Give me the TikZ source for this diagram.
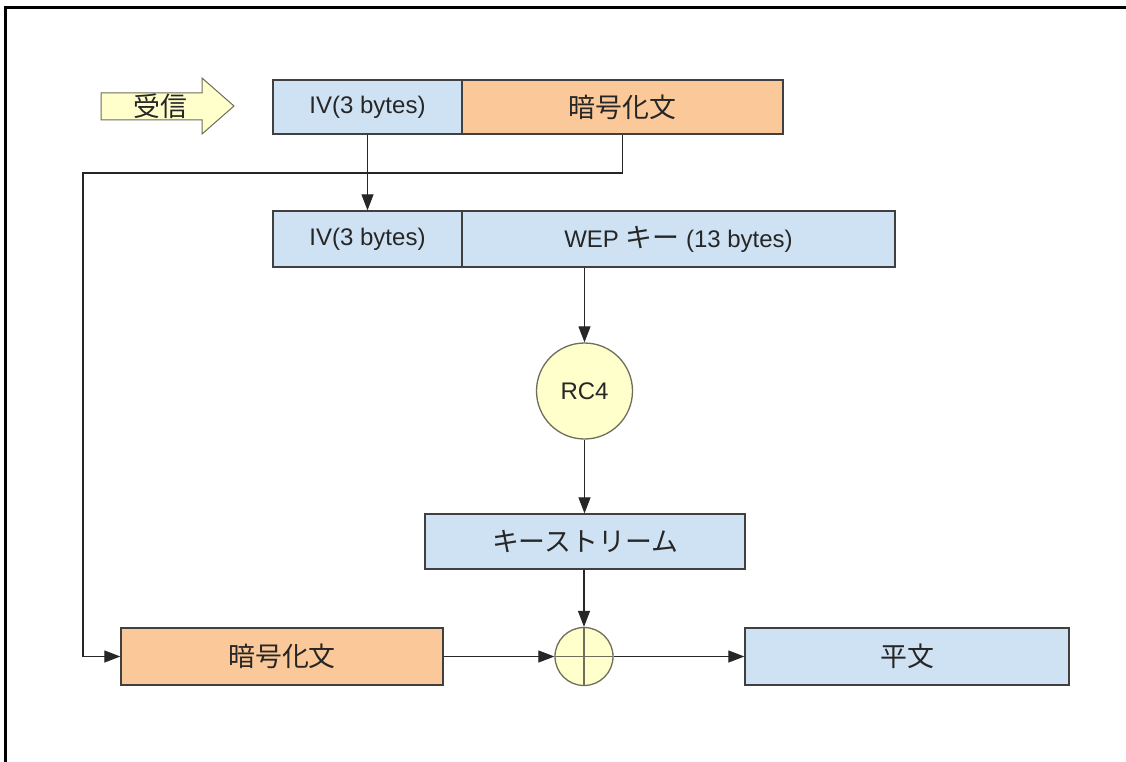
\documentclass[tikz,border=0pt]{standalone}
\usepackage{fontspec}
\setmainfont{Liberation Sans}
\newfontfamily\jp[Scale=1.12]{Noto Sans CJK JP}
\usetikzlibrary{arrows.meta}
\definecolor{boxblue}{RGB}{207,226,243}
\definecolor{boxorange}{RGB}{251,201,153}
\definecolor{paleyellow}{RGB}{255,255,204}
\definecolor{edgegray}{RGB}{64,64,64}
\definecolor{circgray}{RGB}{110,110,90}
\begin{document}
\begin{tikzpicture}[x=1pt,y=-1pt,
  every node/.style={font=\fontsize{24}{28}\selectfont, text=black!85},
  field/.style={draw=edgegray, line width=1.3pt, inner sep=0pt, minimum height=55pt},
  bluefield/.style={field, fill=boxblue},
  orangefield/.style={field, fill=boxorange},
  proc/.style={circle, draw=circgray, line width=1.3pt, fill=paleyellow, inner sep=0pt},
  flow/.style={line width=1.1pt, draw=black!85, -{Triangle[length=16pt,width=12pt]}},
  plain line/.style={line width=1.1pt, draw=black!85}]
\useasboundingbox (0,0) rectangle (1126,762);
\fill[white] (0,0) rectangle (1126,762);
% outer frame
\draw[line width=3pt, line cap=butt] (5.5,762) -- (5.5,7.5) -- (1126,7.5);

% receive arrow
\fill[paleyellow, draw=circgray, line width=1pt]
  (101,93) -- (202,93) -- (202,78) -- (234,106) -- (202,134) -- (202,120) -- (101,120) -- cycle;
\node (recv) at (160,106.5) {\jp 受信};

% received frame
\node[bluefield, minimum width=189pt, minimum height=54pt] (iv1) at (367.5,107) {IV(3 bytes)};
\node[orangefield, minimum width=321pt, minimum height=54pt] (ct1) at (622.5,107) {\jp 暗号化文};

% seed
\node[bluefield, minimum width=189pt, minimum height=56pt] (iv2) at (367.5,239) {IV(3 bytes)};
\node[bluefield, minimum width=433pt, minimum height=56pt] (wep) at (678.5,239) {WEP {\jp キー} (13 bytes)};

% RC4 and keystream
\node[proc, minimum size=96pt] (rc4) at (584.5,391) {RC4};
\node[bluefield, minimum width=320pt] (ks) at (585,541.5) {\jp キーストリーム};

% XOR stage
\node[proc, minimum size=58pt,
  path picture={\draw[circgray, line width=1.3pt]
    (path picture bounding box.north) -- (path picture bounding box.south)
    (path picture bounding box.west) -- (path picture bounding box.east);}] (xor) at (584,656.5) {};
\node[orangefield, minimum width=322pt, minimum height=57pt] (ct2) at (282,656.5) {\jp 暗号化文};
\node[bluefield, minimum width=324pt, minimum height=57pt] (pt) at (907,656.5) {\jp 平文};

% connectors
\coordinate (bend) at (83,173);
\draw[flow] (iv1.south) -- (iv2.north);
\draw[flow] (ct1.south) |- (bend) |- (ct2.west);
\draw[flow] (rc4.north |- wep.south) -- (rc4.north);
\draw[flow] (rc4.south) -- (rc4.south |- ks.north);
\draw[flow] (xor.north |- ks.south) -- (xor.north);
\draw[flow] (ct2.east) -- (xor.west);
\draw[flow] (xor.east) -- (pt.west);
\end{tikzpicture}
\end{document}
